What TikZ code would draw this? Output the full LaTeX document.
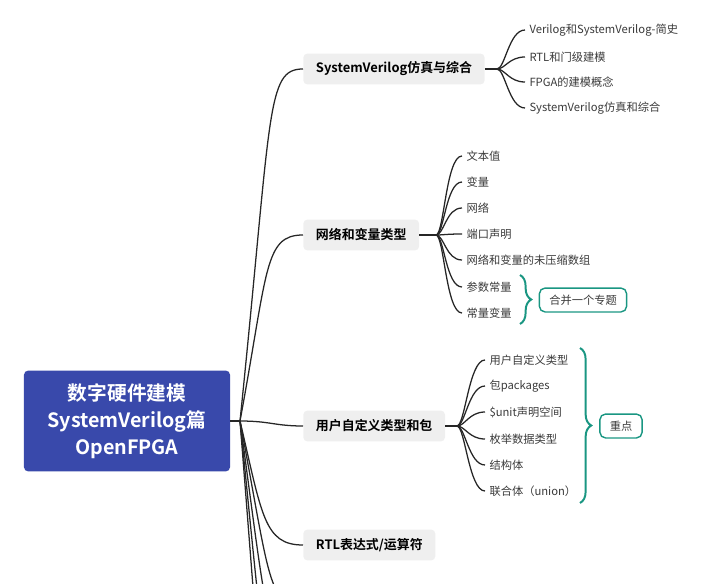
\documentclass[tikz,border=0pt]{standalone}
\usepackage{fontspec}
\setmainfont{Noto Sans CJK SC}[BoldFont={Noto Sans CJK SC Bold}]
\usetikzlibrary{decorations.pathreplacing}
\definecolor{rootblue}{RGB}{57,73,171}
\definecolor{boxgray}{RGB}{239,239,239}
\definecolor{leafgray}{RGB}{58,58,58}
\definecolor{braceteal}{RGB}{26,150,130}

\begin{document}
\begin{tikzpicture}[
x=0.025cm, y=-0.025cm,
root/.style={
fill=rootblue,
rounded corners=3pt,
text=white,
align=center,
font=\bfseries\fontsize{14}{19}\selectfont,
minimum width=5.15cm,
minimum height=2.52cm
},
topic/.style={
fill=boxgray,
rounded corners=3pt,
anchor=west,
inner xsep=9pt,
minimum height=22pt,
font=\bfseries\fontsize{9.2}{11}\selectfont
},
leaf/.style={
anchor=west,
inner xsep=3pt,
text=leafgray,
font=\fontsize{8}{10}\selectfont
},
note/.style={
draw=braceteal,
line width=1pt,
rounded corners=4pt,
inner xsep=7pt,
minimum height=17pt,
text=leafgray,
font=\fontsize{8}{10}\selectfont
},
link/.style={line width=0.9pt, draw=black!85},
curly/.style={decorate, decoration={brace, amplitude=8pt}, draw=braceteal, line width=1.4pt}
]
\useasboundingbox (0,0) rectangle (723,584);
\clip (0,0) rectangle (723,584);

\node[root] (R) at (127,421) {数字硬件建模\\SystemVerilog篇\\OpenFPGA};

\node[topic] (Sim) at (303,69) {SystemVerilog仿真与综合};
\node[topic] (Net) at (303,235) {网络和变量类型};
\node[topic] (Usr) at (303,426) {用户自定义类型和包};
\node[topic] (Rtl) at (303,545) {RTL表达式/运算符};

\coordinate (rh) at (240,421);
\coordinate (o1) at (303,605);
\coordinate (o2) at (303,650);
\coordinate (o3) at (303,720);
\coordinate (o4) at (303,800);

\draw[link] (R.east) -- (rh);
\draw[link] (rh) .. controls (272,110) and (266,69) .. (Sim.west);
\draw[link] (rh) .. controls (268,270) and (264,235) .. (Net.west);
\draw[link] (rh) .. controls (270,421) and (275,426) .. (Usr.west);
\draw[link] (rh) .. controls (262,515) and (264,545) .. (Rtl.west);
\draw[link] (rh) .. controls (270,580) and (268,605) .. (o1);
\draw[link] (rh) .. controls (268,625) and (266,650) .. (o2);
\draw[link] (rh) .. controls (268,695) and (266,720) .. (o3);
\draw[link] (rh) .. controls (268,775) and (266,800) .. (o4);

% SystemVerilog仿真与综合
\coordinate (h1) at (497,69);
\node[leaf] (Sim1) at (525,30) {Verilog和SystemVerilog-简史};
\node[leaf] (Sim2) at (525,57) {RTL和门级建模};
\node[leaf] (Sim3) at (525,82) {FPGA的建模概念};
\node[leaf] (Sim4) at (525,108) {SystemVerilog仿真和综合};

\draw[link] (Sim.east) -- (h1);
\draw[link] (h1) .. controls +(8,0) and +(-16,0) .. (Sim1.west);
\draw[link] (h1) .. controls +(8,0) and +(-16,0) .. (Sim2.west);
\draw[link] (h1) .. controls +(8,0) and +(-16,0) .. (Sim3.west);
\draw[link] (h1) .. controls +(8,0) and +(-16,0) .. (Sim4.west);

% 网络和变量类型
\coordinate (h2) at (436,235);
\node[leaf] (Net1) at (462,156) {文本值};
\node[leaf] (Net2) at (462,182) {变量};
\node[leaf] (Net3) at (462,208) {网络};
\node[leaf] (Net4) at (462,234) {端口声明};
\node[leaf] (Net5) at (462,260) {网络和变量的未压缩数组};
\node[leaf] (Net6) at (462,287) {参数常量};
\node[leaf] (Net7) at (462,313) {常量变量};

\draw[link] (Net.east) -- (h2);
\draw[link] (h2) .. controls +(8,0) and +(-16,0) .. (Net1.west);
\draw[link] (h2) .. controls +(8,0) and +(-16,0) .. (Net2.west);
\draw[link] (h2) .. controls +(8,0) and +(-16,0) .. (Net3.west);
\draw[link] (h2) .. controls +(8,0) and +(-16,0) .. (Net4.west);
\draw[link] (h2) .. controls +(8,0) and +(-16,0) .. (Net5.west);
\draw[link] (h2) .. controls +(8,0) and +(-16,0) .. (Net6.west);
\draw[link] (h2) .. controls +(8,0) and +(-16,0) .. (Net7.west);

\coordinate (b1t) at (520,275);
\coordinate (b1b) at (520,324);
\draw[curly] (b1t) -- (b1b);
\node[note] (Topic) at (583,300) {合并一个专题};

% 用户自定义类型和包
\coordinate (h3) at (457,426);
\node[leaf] (Usr1) at (485,360) {用户自定义类型};
\node[leaf] (Usr2) at (485,386) {包packages};
\node[leaf] (Usr3) at (485,412) {\$unit声明空间};
\node[leaf] (Usr4) at (485,439) {枚举数据类型};
\node[leaf] (Usr5) at (485,465) {结构体};
\node[leaf] (Usr6) at (485,491) {联合体（union）};

\draw[link] (Usr.east) -- (h3);
\draw[link] (h3) .. controls +(8,0) and +(-16,0) .. (Usr1.west);
\draw[link] (h3) .. controls +(8,0) and +(-16,0) .. (Usr2.west);
\draw[link] (h3) .. controls +(8,0) and +(-16,0) .. (Usr3.west);
\draw[link] (h3) .. controls +(8,0) and +(-16,0) .. (Usr4.west);
\draw[link] (h3) .. controls +(8,0) and +(-16,0) .. (Usr5.west);
\draw[link] (h3) .. controls +(8,0) and +(-16,0) .. (Usr6.west);

\coordinate (b2t) at (580,348);
\coordinate (b2b) at (580,503);
\draw[curly] (b2t) -- (b2b);
\node[note] (Key) at (621,426) {重点};

\end{tikzpicture}
\end{document}
